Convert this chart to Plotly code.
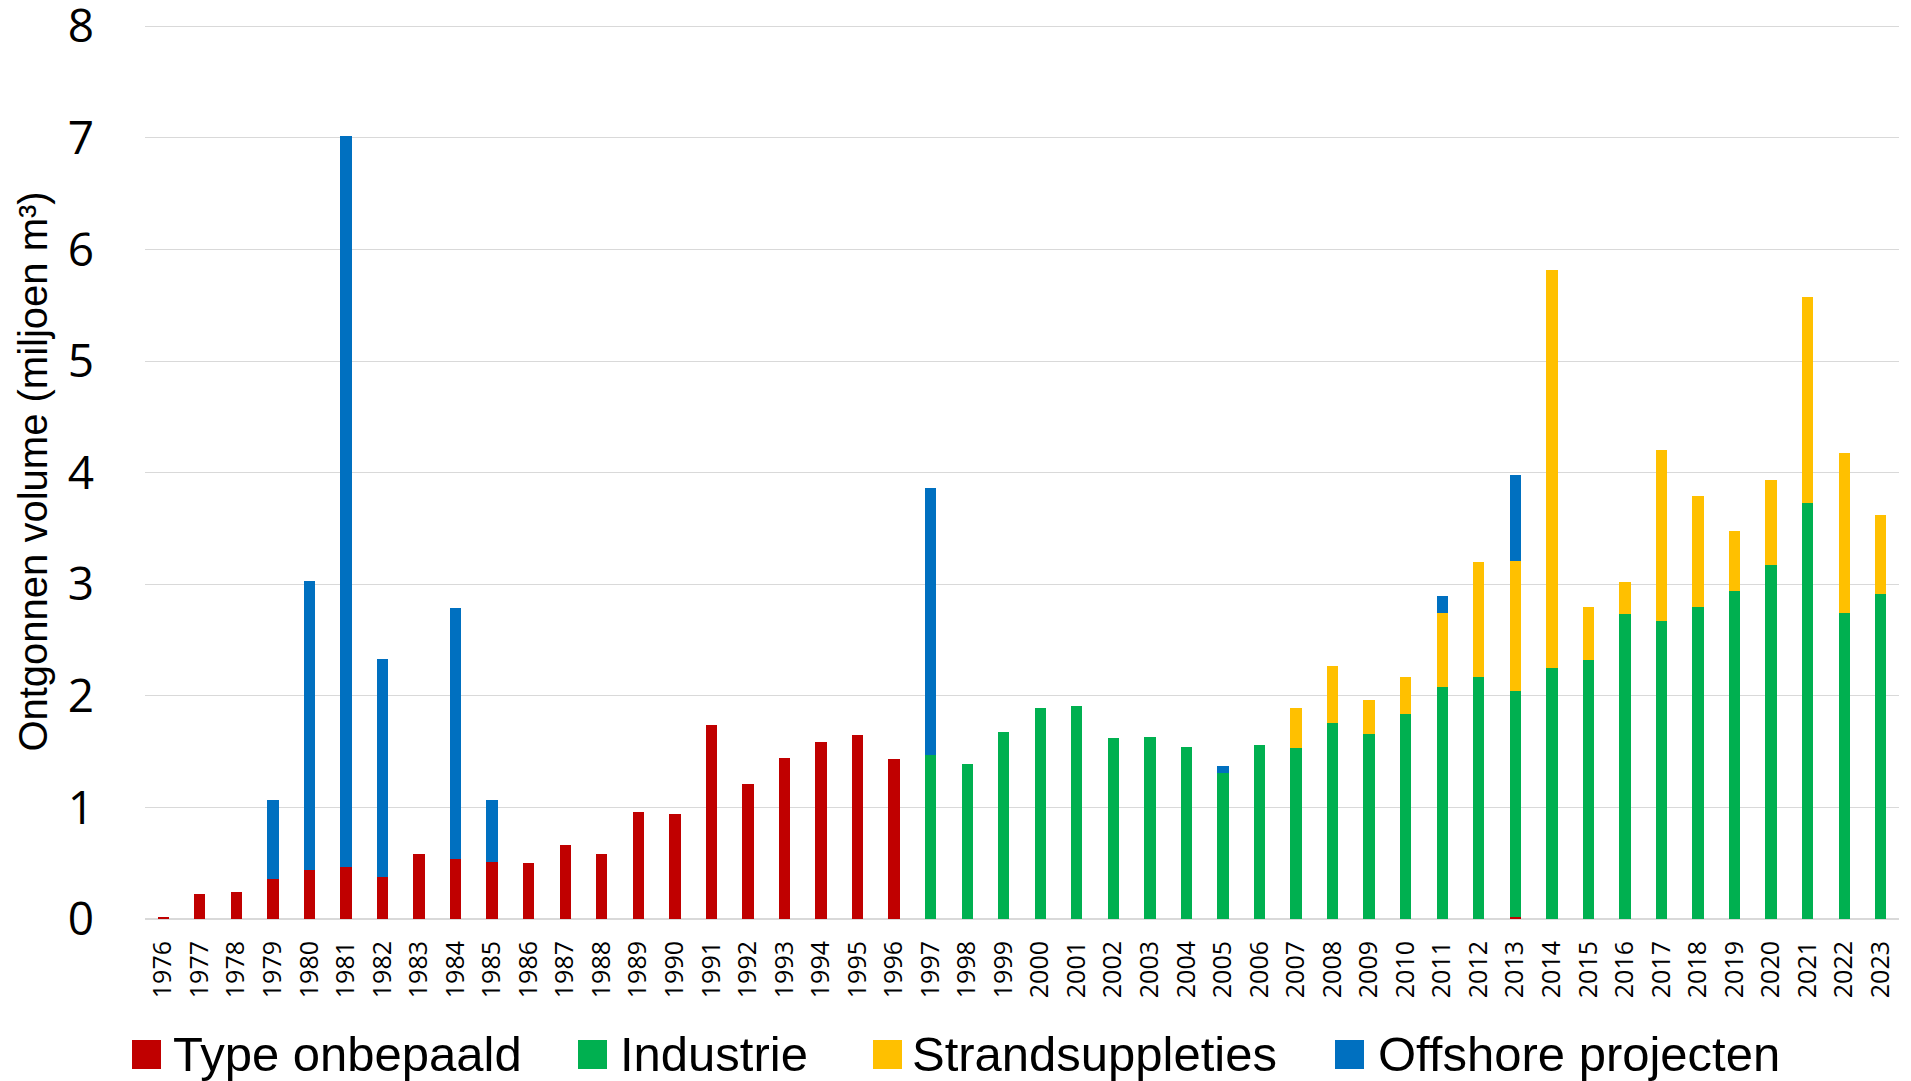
import plotly.graph_objects as go

years = [str(y) for y in range(1976, 2024)]

type_onbepaald = [0.02, 0.22, 0.24, 0.36, 0.44, 0.47, 0.38, 0.58, 0.54, 0.51, 0.50, 0.66, 0.58, 0.96, 0.94,
                  1.74, 1.21, 1.44, 1.59, 1.65, 1.43,
                  0, 0, 0, 0, 0, 0, 0, 0, 0, 0, 0, 0, 0, 0, 0, 0, 0.02, 0, 0, 0, 0, 0, 0, 0, 0, 0, 0]

industrie = [0] * 21 + [1.47, 1.39, 1.68, 1.89, 1.91, 1.62, 1.63, 1.54, 1.31, 1.56, 1.53, 1.76, 1.66, 1.84,
                        2.08, 2.17, 2.02, 2.25, 2.32, 2.73, 2.67, 2.80, 2.94, 3.17, 3.73, 2.74, 2.91]

strandsuppleties = [0] * 31 + [0.36, 0.51, 0.30, 0.33, 0.66, 1.03, 1.17, 3.57, 0.48, 0.29, 1.53, 0.99, 0.54,
                               0.76, 1.84, 1.44, 0.71]

offshore = [0, 0, 0, 0.71, 2.59, 6.55, 1.95, 0, 2.25, 0.56, 0, 0, 0, 0, 0,
            0, 0, 0, 0, 0, 0, 2.39, 0, 0, 0, 0, 0, 0, 0, 0.06, 0, 0, 0, 0, 0,
            0.15, 0, 0.77, 0, 0, 0, 0, 0, 0, 0, 0, 0, 0]

series_names = ["Type onbepaald", "Industrie", "Strandsuppleties", "Offshore projecten"]
series_values = [type_onbepaald, industrie, strandsuppleties, offshore]
series_colors = ["#C00000", "#00B050", "#FFC000", "#0070C0"]

# page has an 8px body margin; size the figure so it fills the 1911x1081 window
OFF = 8
W, H = 1911 - 2 * OFF, 1081 - OFF
ML, MR, MT, MB = 137, 4, 16, 162
PW, PH = W - ML - MR, H - MT - MB
PLOT_BOTTOM_PAGE = OFF + H - MB


def px_to_paper_x(px):
    return (px - OFF - ML) / PW


def px_to_paper_y(py):
    return (PLOT_BOTTOM_PAGE - py) / PH


fig = go.Figure()
for name, vals, col in zip(series_names, series_values, series_colors):
    fig.add_trace(go.Bar(x=years, y=vals, name=name, showlegend=False,
                         marker=dict(color=col, line=dict(width=0))))

# manual legend (large square swatches like the original)
legend_square_px = [132, 578, 873, 1335]
legend_text_px = [171, 618, 910, 1376]
sq = 29
sq_top, sq_bot = 1040, 1069
shapes, annotations = [], []
for name, col, sx, tx in zip(series_names, series_colors, legend_square_px, legend_text_px):
    shapes.append(dict(type="rect", xref="paper", yref="paper",
                       x0=px_to_paper_x(sx), x1=px_to_paper_x(sx + sq),
                       y0=px_to_paper_y(sq_bot), y1=px_to_paper_y(sq_top),
                       fillcolor=col, line=dict(width=0)))
    annotations.append(dict(text=name, xref="paper", yref="paper",
                            x=px_to_paper_x(tx), y=px_to_paper_y(1054),
                            xanchor="left", yanchor="middle", showarrow=False,
                            font=dict(size=49, family="Liberation Sans, Arial, sans-serif")))

fig.update_layout(
    barmode="stack",
    bargap=0.69,
    width=W, height=H,
    margin=dict(l=ML, r=MR, t=MT, b=MB),
    plot_bgcolor="white",
    paper_bgcolor="white",
    font=dict(family="Open Sans, Liberation Sans, sans-serif", color="black"),
    showlegend=False,
    shapes=shapes,
    annotations=annotations,
)
fig.update_yaxes(range=[0, 8.02], tickvals=[0, 1, 2, 3, 4, 5, 6, 7, 8],
                 showgrid=True, gridcolor="#d9d9d9", gridwidth=1.3,
                 zeroline=True, zerolinecolor="#d9d9d9", zerolinewidth=1.5,
                 tickfont=dict(size=46, family="Open Sans, sans-serif"), ticklabelstandoff=50,
                 ticklabeloverflow="allow", automargin=False,
                 title=dict(text="Ontgonnen volume (miljoen m³)",
                            font=dict(size=40, family="Liberation Sans, Arial, sans-serif"), standoff=7))
fig.update_xaxes(tickangle=-90, tickfont=dict(size=25, family="Open Sans, sans-serif"),
                 showline=False, ticks="", type="category", automargin=False, ticklabelstandoff=16,
                 ticklabeloverflow="allow")

fig.write_html("out.html")
